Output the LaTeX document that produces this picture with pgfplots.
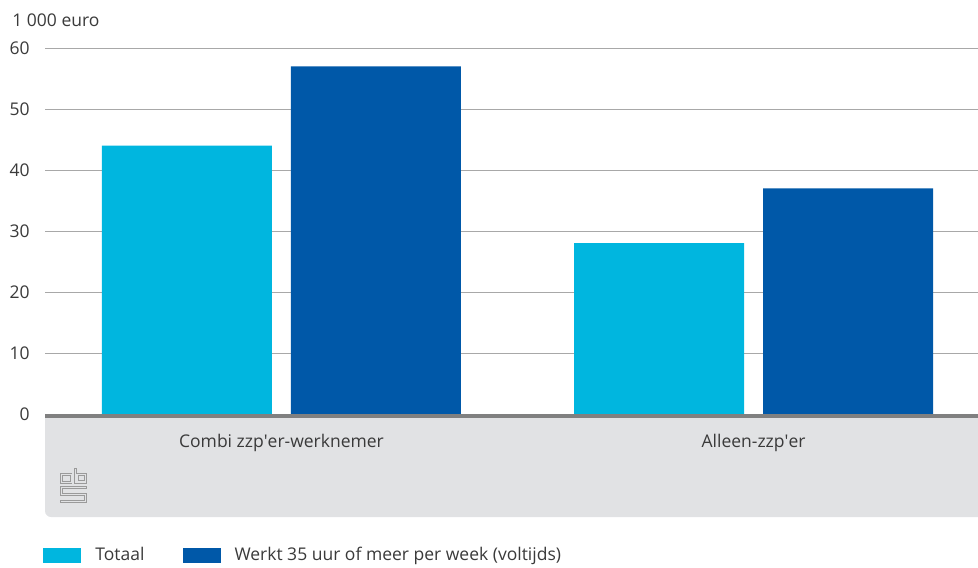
\documentclass[border=0pt]{standalone}
\usepackage{pgfplots}
\pgfplotsset{compat=1.18}
\usepackage{fontspec}
\setmainfont{Open Sans}
\definecolor{cbscyan}{HTML}{00B6DF}
\definecolor{cbsblue}{HTML}{0058A8}
\definecolor{boxgray}{HTML}{E1E2E4}
\definecolor{zerogray}{HTML}{808080}
\definecolor{gridgray}{HTML}{A8A8A8}
\definecolor{txt}{HTML}{3A3A3A}
\definecolor{logogray}{HTML}{9A9A9A}
\newcommand{\fnt}{\fontsize{8.75pt}{10.5pt}\selectfont}
\begin{document}
\begin{tikzpicture}[font=\fnt, text=txt]
% background box under the category axis
\fill[boxgray] (0pt,-2pt) -- (466.5pt,-2pt) -- (466.5pt,-51.5pt) -- (3pt,-51.5pt)
   arc[start angle=270, end angle=180, radius=3pt] -- cycle;
\begin{axis}[
  at={(0pt,0pt)}, anchor=south west,
  scale only axis, width=466.5pt, height=183pt,
  xmin=-0.501, xmax=1.4756, ymin=0, ymax=60,
  ybar=9.5pt, bar width=85pt,
  xtick={0,1}, xticklabels={Combi zzp\textquotesingle er-werknemer, Alleen-zzp\textquotesingle er},
  ytick={0,10,...,60},
  axis line style={draw=none}, major tick length=0pt, tick style={draw=none},
  ymajorgrids, grid style={gridgray, line width=0.5pt},
  /pgf/number format/assume math mode=true,
  ticklabel style={font=\fnt, text=txt},
  yticklabel style={anchor=east, inner sep=0pt, xshift=-7.5pt},
  xticklabel style={anchor=base, inner sep=0pt, yshift=-16.5pt},
  clip=false,
  legend style={at={(axis description cs:-0.0021,-0.3866)}, anchor=west,
    draw=none, fill=none, inner sep=0pt, legend columns=2,
    nodes={inner sep=0pt, text=txt, font=\fnt},
    /tikz/every odd column/.append style={column sep=7pt},
    /tikz/every even column/.append style={column sep=19pt}},
  legend image code/.code={\fill[#1] (0pt,-3.75pt) rectangle (19pt,3.75pt);},
]
\addplot[fill=cbscyan, draw=none] coordinates {(0,44) (1,28)};
\addlegendentry{Totaal}
\addplot[fill=cbsblue, draw=none] coordinates {(0,57) (1,37)};
\addlegendentry{Werkt 35 uur of meer per week (voltijds)}
\end{axis}
% zero line
\fill[zerogray] (0pt,0pt) rectangle (466.5pt,-2pt);
% unit label
\node[anchor=base west, inner sep=0pt] at (-16.5pt,193.5pt) {1 000 euro};
% logo (approximation)
\begin{scope}[shift={(7.5pt,-44pt)}, x=1pt, y=1pt, line width=0.45pt, draw=logogray]
  \draw (6,14.5) -- (0,14.5) -- (0,9.5) -- (6,9.5);
  \draw (5,13.5) -- (1,13.5) -- (1,10.5) -- (5,10.5) -- (5,13.5);
  \draw (7,17) -- (7,9.5) -- (13,9.5) -- (13,14.5) -- (8,14.5) -- (8,17) -- cycle;
  \draw (9,10.7) rectangle (12,13.3);
  \draw (13,8) -- (0,8) -- (0,3.5) -- (12,3.5) -- (12,1) -- (0,1) -- (0,0) -- (13,0) -- (13,4.5) -- (1,4.5) -- (1,7) -- (13,7) -- cycle;
\end{scope}
\pgfresetboundingbox
\useasboundingbox (-22.5pt,-76.5pt) rectangle (466.5pt,207pt);
\end{tikzpicture}
\end{document}
